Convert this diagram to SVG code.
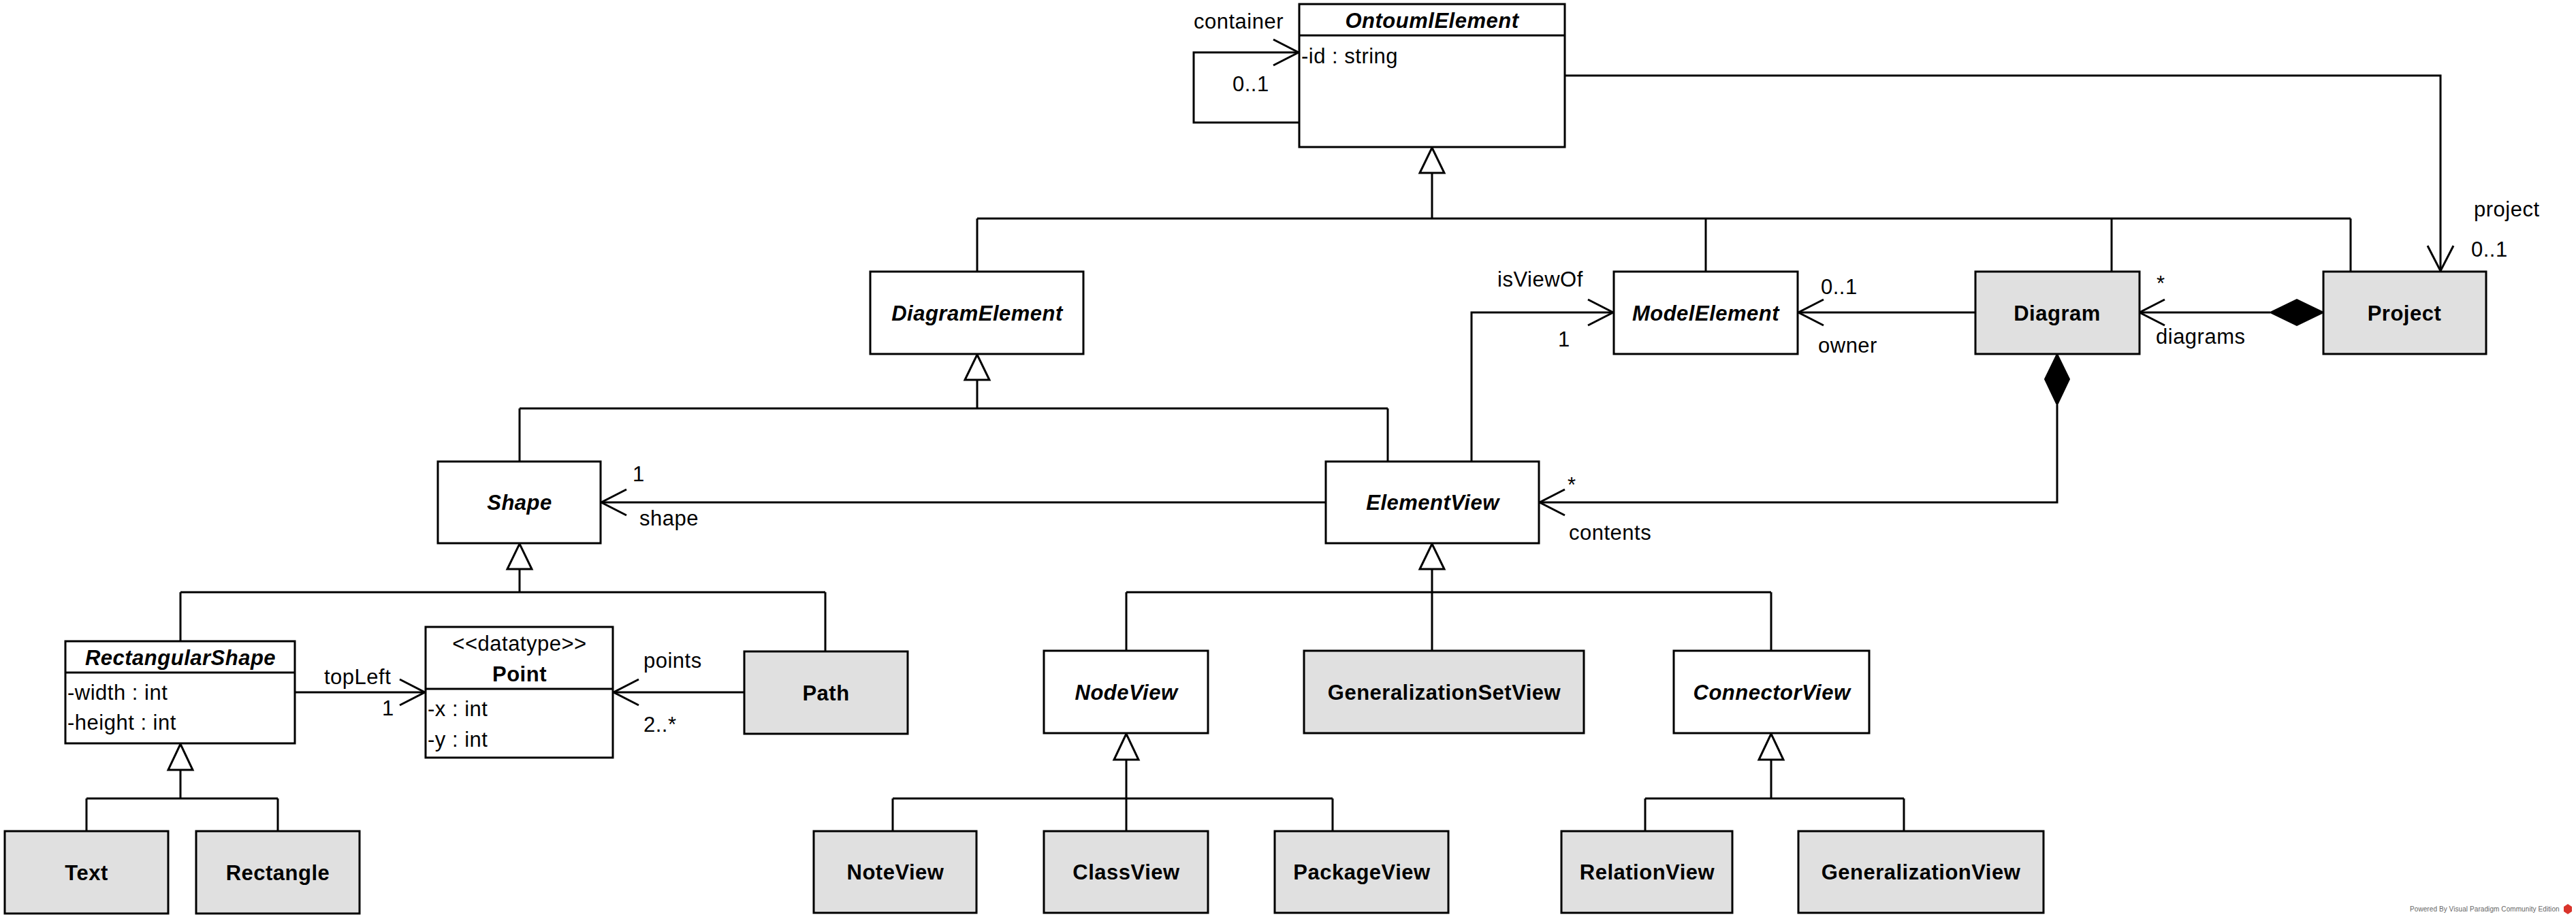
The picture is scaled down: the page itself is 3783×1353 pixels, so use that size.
<svg xmlns="http://www.w3.org/2000/svg" width="3783" height="1353" viewBox="0 0 3783 1353">
<style>
text{font-family:"Liberation Sans",Arial,sans-serif;font-size:31px;letter-spacing:0.5px;fill:#000}
.box{fill:#fff;stroke:#000;stroke-width:3}
.gbox{fill:#e0e0e0;stroke:#000;stroke-width:3}
.ln{fill:none;stroke:#000;stroke-width:3}
.tri{fill:#fff;stroke:#000;stroke-width:3}
.dia{fill:#000;stroke:#000;stroke-width:2}
.nm{font-weight:bold;text-anchor:middle}
.ab{font-style:italic}
.mid{text-anchor:middle}
.wm{font-size:10px;letter-spacing:0.4px;fill:#666}
</style>
<defs>
<marker id="open" markerUnits="userSpaceOnUse" viewBox="-2 -2 42 42" markerWidth="42" markerHeight="42" refX="37" refY="19" orient="auto" overflow="visible">
<path d="M0,0 L37,19 L0,38" fill="none" stroke="#000" stroke-width="3"/>
</marker>
</defs>
<rect width="3783" height="1353" fill="#fff"/>

<g id="connectors">
<!-- generalization tree to OntoumlElement -->
<polygon class="tri" points="2103,217 2085,254 2121,254"/>
<path class="ln" d="M2103,254 V321 M1435,321 H3452 M1435,321 V399 M2505,321 V399 M3101,321 V399 M3452,321 V399"/>
<!-- to DiagramElement -->
<polygon class="tri" points="1435,521 1417,558 1453,558"/>
<path class="ln" d="M1435,558 V600 M763,600 H2038 M763,600 V678 M2038,600 V678"/>
<!-- to Shape -->
<polygon class="tri" points="763,799 745,836 781,836"/>
<path class="ln" d="M763,836 V870 M265,870 H1212 M265,870 V942 M1212,870 V957"/>
<!-- to ElementView -->
<polygon class="tri" points="2103,799 2085,836 2121,836"/>
<path class="ln" d="M2103,836 V956 M1654,870 H2601 M1654,870 V956 M2601,870 V956"/>
<!-- to RectangularShape -->
<polygon class="tri" points="265,1093 247,1131 283,1131"/>
<path class="ln" d="M265,1131 V1173 M127,1173 H408 M127,1173 V1221 M408,1173 V1221"/>
<!-- to NodeView -->
<polygon class="tri" points="1654,1078 1636,1116 1672,1116"/>
<path class="ln" d="M1654,1116 V1221 M1311,1173 H1957 M1311,1173 V1221 M1957,1173 V1221"/>
<!-- to ConnectorView -->
<polygon class="tri" points="2601,1078 2583,1116 2619,1116"/>
<path class="ln" d="M2601,1116 V1173 M2416,1173 H2796 M2416,1173 V1221 M2796,1173 V1221"/>

<!-- container self association -->
<path class="ln" d="M1907,180 H1753 V77 H1907" marker-end="url(#open)"/>
<text x="1753" y="42">container</text>
<text x="1810" y="134">0..1</text>
<!-- project -->
<path class="ln" d="M2299,111 H3584 V398" marker-end="url(#open)"/>
<text x="3633" y="318">project</text>
<text x="3629" y="377">0..1</text>
<!-- owner -->
<path class="ln" d="M2901,459 H2641" marker-end="url(#open)"/>
<text x="2674" y="432">0..1</text>
<text x="2670" y="518">owner</text>
<!-- diagrams -->
<polygon class="dia" points="3412,459 3373,440 3334,459 3373,478"/>
<path class="ln" d="M3334,459 H3142" marker-end="url(#open)"/>
<text x="3167" y="427">*</text>
<text x="3166" y="505">diagrams</text>
<!-- isViewOf -->
<path class="ln" d="M2161,678 V459 H2369" marker-end="url(#open)"/>
<text x="2199" y="421">isViewOf</text>
<text x="2288" y="509">1</text>
<!-- contents -->
<polygon class="dia" points="3021,520 3003,557 3021,595 3039,557"/>
<path class="ln" d="M3021,595 V738 H2261" marker-end="url(#open)"/>
<text x="2302" y="723">*</text>
<text x="2304" y="793">contents</text>
<!-- shape -->
<path class="ln" d="M1947,738 H883" marker-end="url(#open)"/>
<text x="929" y="707">1</text>
<text x="939" y="772">shape</text>
<!-- topLeft -->
<path class="ln" d="M434,1017 H624" marker-end="url(#open)"/>
<text x="476" y="1005">topLeft</text>
<text x="561" y="1051">1</text>
<!-- points -->
<path class="ln" d="M1093,1017 H901" marker-end="url(#open)"/>
<text x="945" y="981">points</text>
<text x="945" y="1075">2..*</text>
</g>

<g id="OntoumlElement">
<rect class="box" x="1908" y="6" width="390" height="210"/>
<line class="ln" x1="1908" y1="52" x2="2298" y2="52"/>
<text class="nm ab" x="2103" y="41">OntoumlElement</text>
<text x="1911" y="93">-id : string</text>
</g>
<g id="DiagramElement">
<rect class="box" x="1278" y="399" width="313" height="121"/>
<text class="nm ab" x="1435" y="471">DiagramElement</text>
</g>
<g id="ModelElement">
<rect class="box" x="2370" y="399" width="270" height="121"/>
<text class="nm ab" x="2505" y="471">ModelElement</text>
</g>
<g id="Diagram">
<rect class="gbox" x="2901" y="399" width="241" height="121"/>
<text class="nm" x="3021" y="471">Diagram</text>
</g>
<g id="Project">
<rect class="gbox" x="3412" y="399" width="239" height="121"/>
<text class="nm" x="3531" y="471">Project</text>
</g>
<g id="Shape">
<rect class="box" x="643" y="678" width="239" height="120"/>
<text class="nm ab" x="763" y="749">Shape</text>
</g>
<g id="ElementView">
<rect class="box" x="1947" y="678" width="313" height="120"/>
<text class="nm ab" x="2104" y="749">ElementView</text>
</g>
<g id="RectangularShape">
<rect class="box" x="96" y="942" width="337" height="150"/>
<line class="ln" x1="96" y1="988" x2="433" y2="988"/>
<text class="nm ab" x="265" y="977">RectangularShape</text>
<text x="99" y="1028">-width : int</text>
<text x="99" y="1072">-height : int</text>
</g>
<g id="Point">
<rect class="box" x="625" y="921" width="275" height="192"/>
<line class="ln" x1="625" y1="1012" x2="900" y2="1012"/>
<text class="mid" x="763" y="956">&lt;&lt;datatype&gt;&gt;</text>
<text class="nm" x="763" y="1001">Point</text>
<text x="628" y="1052">-x : int</text>
<text x="628" y="1097">-y : int</text>
</g>
<g id="Path">
<rect class="gbox" x="1093" y="957" width="240" height="121"/>
<text class="nm" x="1213" y="1029">Path</text>
</g>
<g id="Text">
<rect class="gbox" x="7" y="1221" width="240" height="121"/>
<text class="nm" x="127" y="1293">Text</text>
</g>
<g id="Rectangle">
<rect class="gbox" x="288" y="1221" width="240" height="121"/>
<text class="nm" x="408" y="1293">Rectangle</text>
</g>
<g id="NodeView">
<rect class="box" x="1533" y="956" width="241" height="121"/>
<text class="nm ab" x="1654" y="1028">NodeView</text>
</g>
<g id="GeneralizationSetView">
<rect class="gbox" x="1915" y="956" width="411" height="121"/>
<text class="nm" x="2121" y="1028">GeneralizationSetView</text>
</g>
<g id="ConnectorView">
<rect class="box" x="2458" y="956" width="287" height="121"/>
<text class="nm ab" x="2602" y="1028">ConnectorView</text>
</g>
<g id="NoteView">
<rect class="gbox" x="1195" y="1221" width="239" height="120"/>
<text class="nm" x="1315" y="1292">NoteView</text>
</g>
<g id="ClassView">
<rect class="gbox" x="1533" y="1221" width="241" height="120"/>
<text class="nm" x="1654" y="1292">ClassView</text>
</g>
<g id="PackageView">
<rect class="gbox" x="1872" y="1221" width="255" height="120"/>
<text class="nm" x="2000" y="1292">PackageView</text>
</g>
<g id="RelationView">
<rect class="gbox" x="2293" y="1221" width="251" height="120"/>
<text class="nm" x="2419" y="1292">RelationView</text>
</g>
<g id="GeneralizationView">
<rect class="gbox" x="2641" y="1221" width="360" height="120"/>
<text class="nm" x="2821" y="1292">GeneralizationView</text>
</g>
<g id="watermark">
<text class="wm" x="3539" y="1339" textLength="220">Powered By Visual Paradigm Community Edition</text>
<path d="M3771,1328 L3777,1332 L3777,1339 L3771,1343 L3765,1339 L3765,1332 Z" fill="#d9342b"/>
</g>
</svg>
